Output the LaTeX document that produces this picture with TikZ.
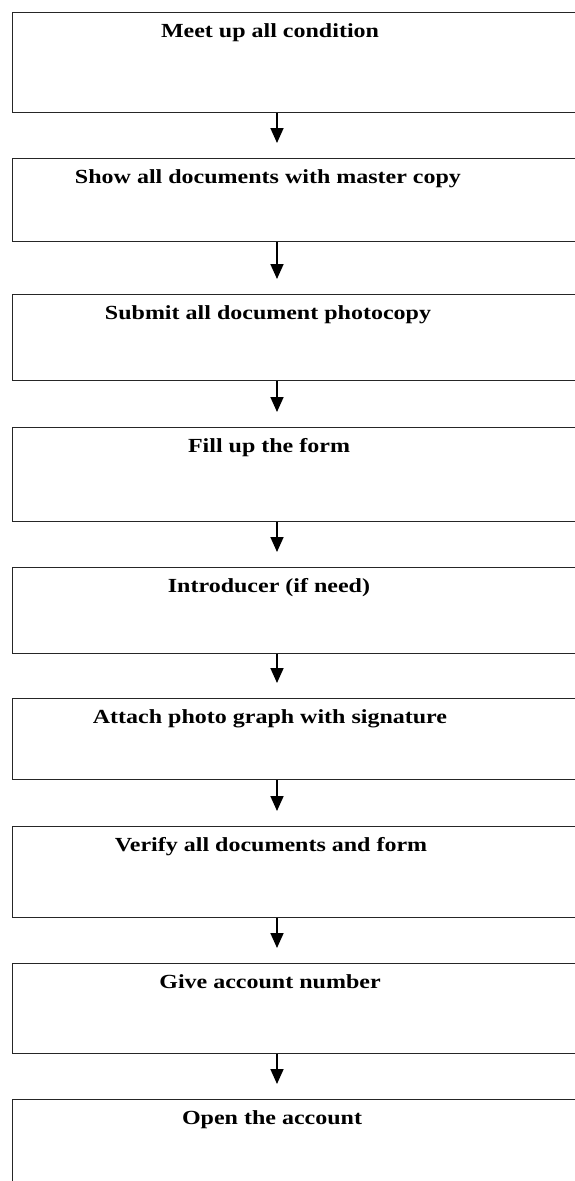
\documentclass[tikz,border=0pt]{standalone}
\usepackage{fontspec}
\setmainfont{Liberation Serif}
\newfontfamily\stepfont[FakeStretch=1.2]{Liberation Serif}
\usepackage{tikz}
\usetikzlibrary{arrows.meta, positioning}

\tikzset{
    stepbox/.style={draw=black!85, line width=1.3pt, rectangle, anchor=north west, minimum width=620, inner sep=0pt},
    steptext/.style={anchor=base, inner sep=0pt, font=\stepfont\fontsize{20}{23}\selectfont\bfseries},
    flowarrow/.style={-{Triangle[length=15, width=13]}, line width=1.7pt, shorten >=15}
}

\begin{document}
\begin{tikzpicture}[x=1pt, y=-1pt]
        \useasboundingbox (0,0) rectangle (575,1181);
        \clip (0,0) rectangle (575,1181);

        % Boxes
        \node[stepbox, minimum height=100] (s1) at (12,12) {};
        \node[stepbox, minimum height=83] (s2) at (12,158) {};
        \node[stepbox, minimum height=86] (s3) at (12,294) {};
        \node[stepbox, minimum height=94] (s4) at (12,427) {};
        \node[stepbox, minimum height=86] (s5) at (12,567) {};
        \node[stepbox, minimum height=81] (s6) at (12,698) {};
        \node[stepbox, minimum height=91] (s7) at (12,826) {};
        \node[stepbox, minimum height=90] (s8) at (12,963) {};
        \node[stepbox, minimum height=120] (s9) at (12,1099) {};

        % Texts
        \node[steptext] (t1) at (270,37) {Meet up all condition};
        \node[steptext] (t2) at (268,183) {Show all documents with master copy};
        \node[steptext] (t3) at (268,319) {Submit all document photocopy};
        \node[steptext] (t4) at (269,452) {Fill up the form};
        \node[steptext] (t5) at (269,592) {Introducer (if need)};
        \node[steptext] (t6) at (270,723) {Attach photo graph with signature};
        \node[steptext] (t7) at (271,851) {Verify all documents and form};
        \node[steptext] (t8) at (270,988) {Give account number};
        \node[steptext] (t9) at (272,1124) {Open the account};

        % Arrows
        \foreach \a/\b in {s1/s2, s2/s3, s3/s4, s4/s5, s5/s6, s6/s7, s7/s8, s8/s9} {
            \draw[flowarrow] ([xshift=265]\a.south west) -- ([xshift=265]\b.north west);
        }
    \end{tikzpicture}
\end{document}
